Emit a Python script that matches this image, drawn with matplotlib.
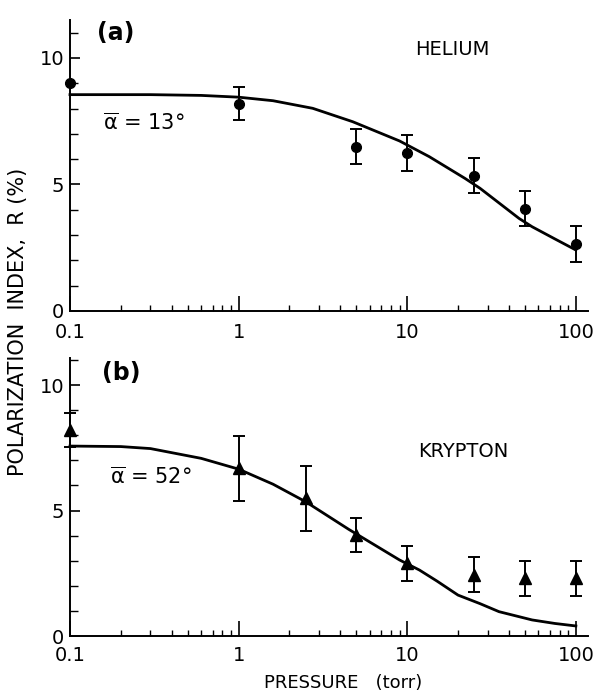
import numpy as np
import matplotlib
matplotlib.use('Agg')
import matplotlib.pyplot as plt
from matplotlib.ticker import FixedLocator, NullFormatter, MultipleLocator

plt.rcParams['font.family'] = ['DejaVu Sans']
plt.rcParams['mathtext.fontset'] = 'dejavusans'

# pressure (torr) of the measurements
he_p = [0.1, 1, 5, 10, 25, 50, 100]
he_r = [9.0, 8.2, 6.5, 6.25, 5.35, 4.05, 2.65]
he_err = [np.nan, 0.67, 0.7, 0.72, 0.69, 0.69, 0.7]

kr_p = [0.1, 1, 2.5, 5, 10, 25, 50, 100]
kr_r = [8.2, 6.68, 5.49, 4.02, 2.9, 2.45, 2.3, 2.3]
kr_err = [0.67, 1.3, 1.3, 0.68, 0.7, 0.69, 0.7, 0.7]

# theory curves
he_curve_p = [0.1, 0.3, 0.6, 1.0, 1.6, 2.75, 4.75, 9.0, 13.5, 22, 27, 46, 55, 75, 100]
he_curve_r = [8.55, 8.55, 8.52, 8.45, 8.31, 8.01, 7.48, 6.72, 6.1, 5.24, 4.85, 3.66, 3.33, 2.85, 2.41]

kr_curve_p = [0.1, 0.2, 0.3, 0.6, 1.0, 1.6, 2.5, 4.5, 9, 11.8, 15, 20, 27, 35, 55, 75, 100]
kr_curve_r = [7.57, 7.55, 7.47, 7.08, 6.65, 6.05, 5.35, 4.25, 3.03, 2.63, 2.19, 1.63, 1.29,
              0.97, 0.64, 0.5, 0.4]

xticks = [0.1, 1, 10, 100]
xticklabels = ['0.1', '1', '10', '100']

fig = plt.figure(figsize=(5.99, 6.94), dpi=100)
ax1 = fig.add_axes([70/599, 1-311/694, 518/599, 291/694])
ax2 = fig.add_axes([70/599, 1-636/694, 518/599, 278/694])


def style(ax, ymax, xpad):
    ax.set_xscale('log')
    ax.set_xlim(0.1, 118)
    ax.set_ylim(0, ymax)
    for s in ['top', 'right']:
        ax.spines[s].set_visible(False)
    for s in ['left', 'bottom']:
        ax.spines[s].set_linewidth(1.4)
    ax.xaxis.set_major_locator(FixedLocator(xticks))
    ax.set_xticklabels(xticklabels)
    minors = [m * 10.0**e for e in range(-1, 2) for m in range(2, 10)]
    ax.xaxis.set_minor_locator(FixedLocator(minors))
    ax.xaxis.set_minor_formatter(NullFormatter())
    ax.yaxis.set_major_locator(FixedLocator([0, 5, 10]))
    ax.yaxis.set_minor_locator(MultipleLocator(1))
    ax.tick_params(axis='x', which='major', direction='in', length=11, width=1.2,
                   labelsize=14, pad=xpad)
    ax.tick_params(axis='x', which='minor', direction='in', length=4, width=1.0)
    ax.tick_params(axis='y', which='major', direction='in', length=7, width=1.2,
                   labelsize=14, pad=4)
    ax.tick_params(axis='y', which='minor', direction='in', length=6, width=1.0)


style(ax1, 11.5, 9)
style(ax2, 11.08, 7)

ax1.plot(he_curve_p, he_curve_r, color='black', lw=2.0, clip_on=False)
ax1.errorbar(he_p, he_r, yerr=he_err, fmt='o', color='black', ms=7,
             elinewidth=1.4, capsize=4, capthick=1.4, clip_on=False, zorder=3)

ax2.plot(kr_curve_p, kr_curve_r, color='black', lw=2.0, clip_on=False)
ax2.errorbar(kr_p, kr_r, yerr=kr_err, fmt='^', color='black', ms=8,
             elinewidth=1.4, capsize=4, capthick=1.4, clip_on=False, zorder=3)

ax1.text(0.089, 0.955, '(a)', transform=ax1.transAxes, fontsize=17,
         fontweight='bold', ha='center', va='center')
ax1.text(0.739, 0.90, 'HELIUM', transform=ax1.transAxes, fontsize=14,
         ha='center', va='center')
ax1.text(0.064, 0.646, r'$\overline{\mathrm{\alpha}}$ = 13°', transform=ax1.transAxes,
         fontsize=15, ha='left', va='center')

ax2.text(0.098, 0.946, '(b)', transform=ax2.transAxes, fontsize=17,
         fontweight='bold', ha='center', va='center')
ax2.text(0.759, 0.665, 'KRYPTON', transform=ax2.transAxes, fontsize=14,
         ha='center', va='center')
ax2.text(0.077, 0.572, r'$\overline{\mathrm{\alpha}}$ = 52°', transform=ax2.transAxes,
         fontsize=15, ha='left', va='center')

fig.text(18/599, 1-322/694, 'POLARIZATION  INDEX,  R (%)', rotation=90,
         fontsize=15, ha='center', va='center')
fig.text(343/599, 1-683/694, 'PRESSURE   (torr)', fontsize=13,
         ha='center', va='center')

fig.savefig('out.png', dpi=100)
